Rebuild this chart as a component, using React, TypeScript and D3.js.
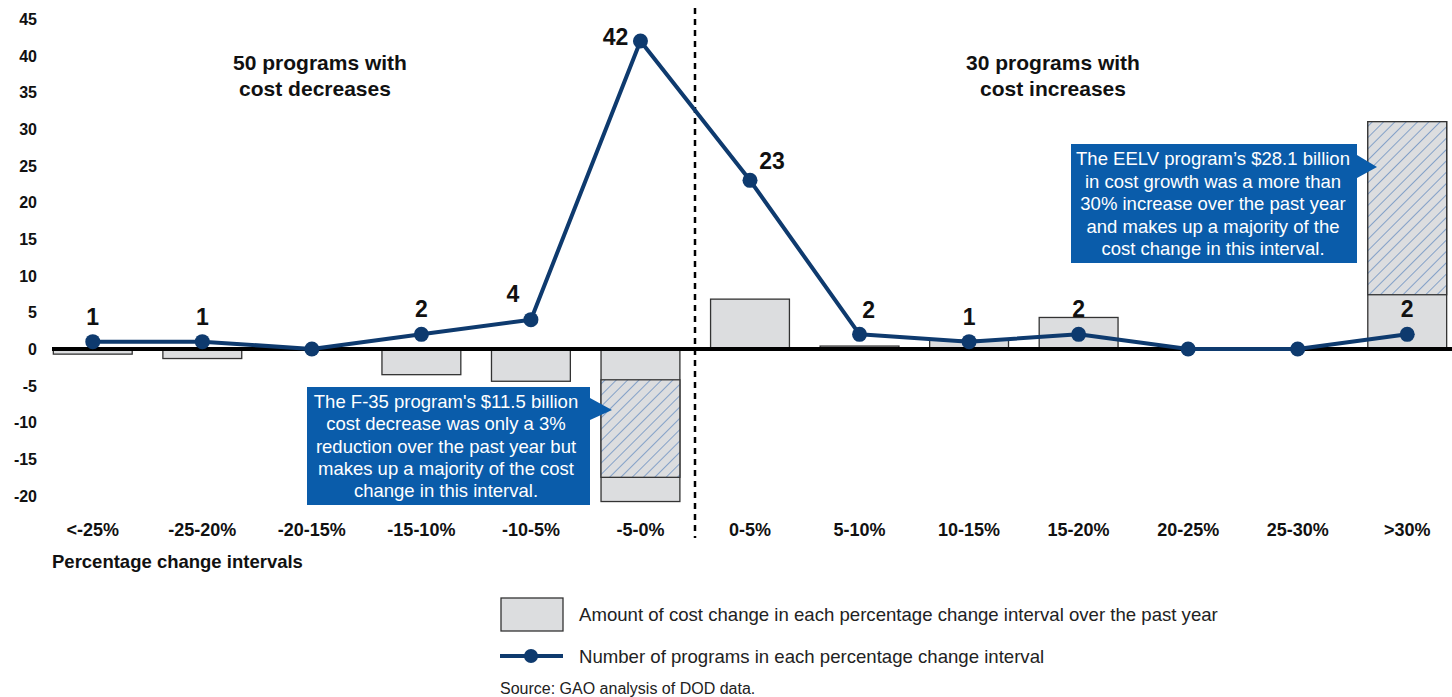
import React from "react";
import * as d3 from "d3";

const categories = ["<-25%", "-25-20%", "-20-15%", "-15-10%", "-10-5%", "-5-0%", "0-5%", "5-10%", "10-15%", "15-20%", "20-25%", "25-30%", ">30%"];
const costChange = [-0.7, -1.3, 0, -3.5, -4.4, -20.8, 6.8, 0.4, 1.2, 4.3, 0, 0, 31.0];
// hatched (single-program) segment [from, to] on the value axis
const hatchSegments: { cat: string; from: number; to: number }[] = [
  { cat: "-5-0%", from: -4.2, to: -17.5 },
  { cat: ">30%", from: 7.4, to: 31.0 },
];
const programCounts = [1, 1, 0, 2, 4, 42, 23, 2, 1, 2, 0, 0, 2];
const yTicks = [-20, -15, -10, -5, 0, 5, 10, 15, 20, 25, 30, 35, 40, 45];

const W = 1452;
const H = 697;
const FONT = "Liberation Sans, Arial, sans-serif";
const NAVY = "#0E3A6E";
const CALLOUT = "#0A5CAA";

// label offsets (dx, dy) relative to point
const labelOffsets: Record<number, [number, number]> = {
  4: [-18, -18],
  5: [-25, 4],
  6: [22, -11],
  7: [9, -16],
};

export default function App() {
  const x = d3.scaleBand<string>().domain(categories).range([38, 1462]).paddingInner(0.28).paddingOuter(0.14);
  const y = d3.scaleLinear().domain([0, 45]).range([349, 19]);
  const bw = x.bandwidth();
  const cx = (c: string) => (x(c) as number) + bw / 2;

  const line = d3
    .line<number>()
    .x((_, i) => cx(categories[i]))
    .y((d) => y(d));

  const f35 = ["The F-35 program's $11.5 billion", "cost decrease was only a 3%", "reduction over the past year but", "makes up a majority of the cost", "change in this interval."];
  const eelv = ["The EELV program\u2019s $28.1 billion", "in cost growth was a more than", "30% increase over the past year", "and makes up a majority of the", "cost change in this interval."];

  return (
    <svg width={W} height={H} style={{ display: "block", position: "absolute", left: 0, top: 0 }} fontFamily={FONT}>
      <defs>
        <pattern id="hatch" patternUnits="userSpaceOnUse" width="8" height="8" patternTransform="rotate(45)">
          <rect width="8" height="8" fill="#DCDDDF" />
          <line x1="0" y1="0" x2="0" y2="8" stroke="#3A6FB5" strokeWidth="1.1" />
        </pattern>
      </defs>
      <rect width={W} height={H} fill="#fff" />

      {/* y axis labels */}
      {yTicks.map((t) => (
        <text key={t} x={37} y={y(t) + 6} textAnchor="end" fontSize={16} fontWeight="bold" fill="#111">
          {t}
        </text>
      ))}

      {/* bars */}
      {categories.map((c, i) => {
        const v = costChange[i];
        if (v === 0) return null;
        const y0 = Math.min(y(0), y(v));
        const h = Math.abs(y(v) - y(0));
        return <rect key={c} x={x(c)} y={y0} width={bw} height={h} fill="#DCDDDF" stroke="#333" strokeWidth={1.3} />;
      })}
      {hatchSegments.map((s) => (
        <rect
          key={s.cat}
          x={x(s.cat)}
          y={Math.min(y(s.from), y(s.to))}
          width={bw}
          height={Math.abs(y(s.from) - y(s.to))}
          fill="url(#hatch)"
          stroke="#333"
          strokeWidth={1.3}
        />
      ))}

      {/* zero line */}
      <line x1={52} x2={W} y1={y(0)} y2={y(0)} stroke="#000" strokeWidth={4} />

      {/* divider */}
      <line x1={695} x2={695} y1={8} y2={538} stroke="#000" strokeWidth={2.5} strokeDasharray="6,5" />

      {/* line series */}
      <path d={line(programCounts) as string} fill="none" stroke={NAVY} strokeWidth={4} strokeLinejoin="round" />
      {programCounts.map((v, i) => (
        <circle key={i} cx={cx(categories[i])} cy={y(v)} r={7.5} fill={NAVY} />
      ))}
      {programCounts.map((v, i) => {
        if (v === 0) return null;
        const [dx, dy] = labelOffsets[i] || [0, -17];
        return (
          <text key={i} x={cx(categories[i]) + dx} y={y(v) + dy} textAnchor="middle" fontSize={23} fontWeight="bold" fill="#111">
            {v}
          </text>
        );
      })}

      {/* region labels */}
      <text x={320} y={70} textAnchor="middle" fontSize={21} fontWeight="bold" fill="#111">50 programs with</text>
      <text x={315} y={96} textAnchor="middle" fontSize={21} fontWeight="bold" fill="#111">cost decreases</text>
      <text x={1053} y={70} textAnchor="middle" fontSize={21} fontWeight="bold" fill="#111">30 programs with</text>
      <text x={1053} y={96} textAnchor="middle" fontSize={21} fontWeight="bold" fill="#111">cost increases</text>

      {/* callout F-35 */}
      <path d="M307,387 H590 V398 L612,410 L590,420 V505 H307 Z" fill={CALLOUT} />
      {f35.map((t, i) => (
        <text key={i} x={446} y={408 + i * 22.3} textAnchor="middle" fontSize={18.5} fill="#fff">
          {t}
        </text>
      ))}

      {/* callout EELV */}
      <path d="M1071,144 H1357 V155 L1377,167 L1357,178 V263 H1071 Z" fill={CALLOUT} />
      {eelv.map((t, i) => (
        <text key={i} x={1213} y={165 + i * 22.5} textAnchor="middle" fontSize={18.5} fill="#fff">
          {t}
        </text>
      ))}

      {/* x labels */}
      {categories.map((c) => (
        <text key={c} x={cx(c)} y={536} textAnchor="middle" fontSize={18} fontWeight="bold" fill="#111">
          {c}
        </text>
      ))}
      <text x={52} y={568} fontSize={18.5} fontWeight="bold" fill="#111">Percentage change intervals</text>

      {/* legend */}
      <rect x={501} y={598} width={62} height={33} fill="#DCDDDF" stroke="#333" strokeWidth={1.3} />
      <text x={579} y={621} fontSize={18.6} fill="#222">Amount of cost change in each percentage change interval over the past year</text>
      <line x1={500} x2={563} y1={656} y2={656} stroke={NAVY} strokeWidth={4} />
      <circle cx={531} cy={656} r={7} fill={NAVY} />
      <text x={579} y={663} fontSize={18.6} fill="#222">Number of programs in each percentage change interval</text>
      <text x={500} y={694} fontSize={16} fill="#222">Source: GAO analysis of DOD data.</text>
    </svg>
  );
}
